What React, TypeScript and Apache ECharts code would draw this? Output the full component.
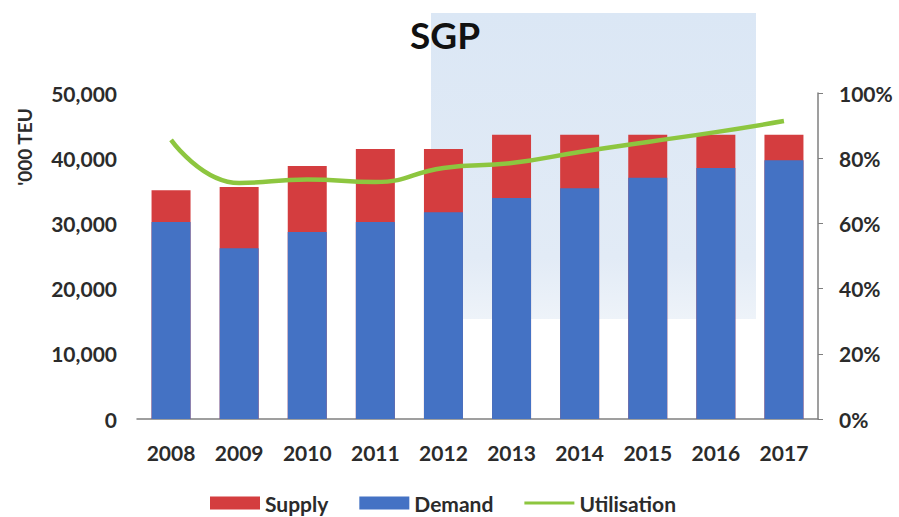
import React, { useEffect, useRef } from "react";
import * as echarts from "echarts";

const years = ["2008", "2009", "2010", "2011", "2012", "2013", "2014", "2015", "2016", "2017"];
const supply = [35100, 35600, 38800, 41400, 41400, 43600, 43600, 43600, 43600, 43600];
const demand = [30200, 26200, 28700, 30200, 31700, 33900, 35400, 37000, 38500, 39700];
const utilisation = [85.6, 72.4, 73.5, 72.7, 77.0, 78.5, 81.9, 85.0, 88.0, 91.4];

const FONT = "Lato, 'Open Sans', sans-serif";
const TEXT = "#2b2b2b";

export default function App() {
  const ref = useRef<HTMLDivElement>(null);
  useEffect(() => {
    if (!ref.current) return;
    const chart = echarts.init(ref.current, null, { renderer: "svg" });
    chart.setOption({
      animation: false,
      backgroundColor: "#ffffff",
      title: {
        text: "SGP",
        left: 405,
        top: 11,
        textStyle: { fontFamily: FONT, fontSize: 37, fontWeight: "bold", color: "#111" },
      },
      graphic: [
        {
          type: "rect",
          z: -10,
          silent: true,
          shape: { x: 431, y: 13, width: 325, height: 306 },
          style: {
            fill: new echarts.graphic.LinearGradient(0, 0, 0, 1, [
              { offset: 0, color: "#dbe7f5" },
              { offset: 0.8, color: "#e2ebf6" },
              { offset: 1, color: "#eef3f9" },
            ]),
          },
        },
        {
          type: "text",
          x: 24,
          y: 147,
          rotation: Math.PI / 2,
          style: {
            text: "'000 TEU",
            fontFamily: FONT,
            fontSize: 19,
            fontWeight: "bold",
            fill: TEXT,
            align: "center",
            verticalAlign: "middle",
          },
        },
      ],
      legend: {
        left: 210,
        top: 491,
        padding: 0,
        itemWidth: 50,
        itemHeight: 13,
        itemGap: 31,
        textStyle: { fontFamily: FONT, fontSize: 21, fontWeight: "bold", color: TEXT, lineHeight: 24 },
        data: [
          { name: "Supply", icon: "rect" },
          { name: "Demand", icon: "rect" },
          { name: "Utilisation", icon: "path://M0,0 H50 V3 H0 Z", itemStyle: { color: "#8dc63f" } },
        ],
      },
      grid: { left: 137, right: 81, top: 93, bottom: 98 },
      xAxis: {
        type: "category",
        data: years,
        axisLine: { lineStyle: { color: "#7f7f7f", width: 1.5 } },
        axisTick: { show: false },
        axisLabel: { fontFamily: FONT, fontSize: 21, fontWeight: "bold", color: TEXT, margin: 23 },
      },
      yAxis: [
        {
          type: "value",
          min: 0,
          max: 50000,
          interval: 10000,
          splitLine: { show: false },
          axisLine: { show: false },
          axisTick: { show: false },
          axisLabel: {
            fontFamily: FONT,
            fontSize: 21,
            fontWeight: "bold",
            color: TEXT,
            margin: 20,
            formatter: (v: number) => v.toLocaleString("en-US"),
          },
        },
        {
          type: "value",
          min: 0,
          max: 100,
          interval: 20,
          position: "right",
          splitLine: { show: false },
          axisLine: { show: true, lineStyle: { color: "#7f7f7f", width: 1.5 } },
          axisTick: { show: true, length: 5, lineStyle: { color: "#7f7f7f" } },
          axisLabel: {
            fontFamily: FONT,
            fontSize: 21,
            fontWeight: "bold",
            color: TEXT,
            margin: 21,
            formatter: (v: number) => v + "%",
          },
        },
      ],
      series: [
        {
          name: "Supply",
          type: "bar",
          data: supply,
          barWidth: 39,
          itemStyle: { color: "#d43d3f" },
          z: 2,
        },
        {
          name: "Demand",
          type: "bar",
          data: demand,
          barWidth: 39,
          barGap: "-100%",
          itemStyle: { color: "#4472c4" },
          z: 3,
        },
        {
          name: "Utilisation",
          type: "line",
          yAxisIndex: 1,
          data: utilisation,
          smooth: 0.5,
          symbol: "none",
          lineStyle: { color: "#8dc63f", width: 4.5 },
          itemStyle: { color: "#8dc63f" },
          z: 4,
        },
      ],
    });
    return () => chart.dispose();
  }, []);
  return <div ref={ref} style={{ width: 899, height: 517, position: "absolute", left: 0, top: 0 }} />;
}
